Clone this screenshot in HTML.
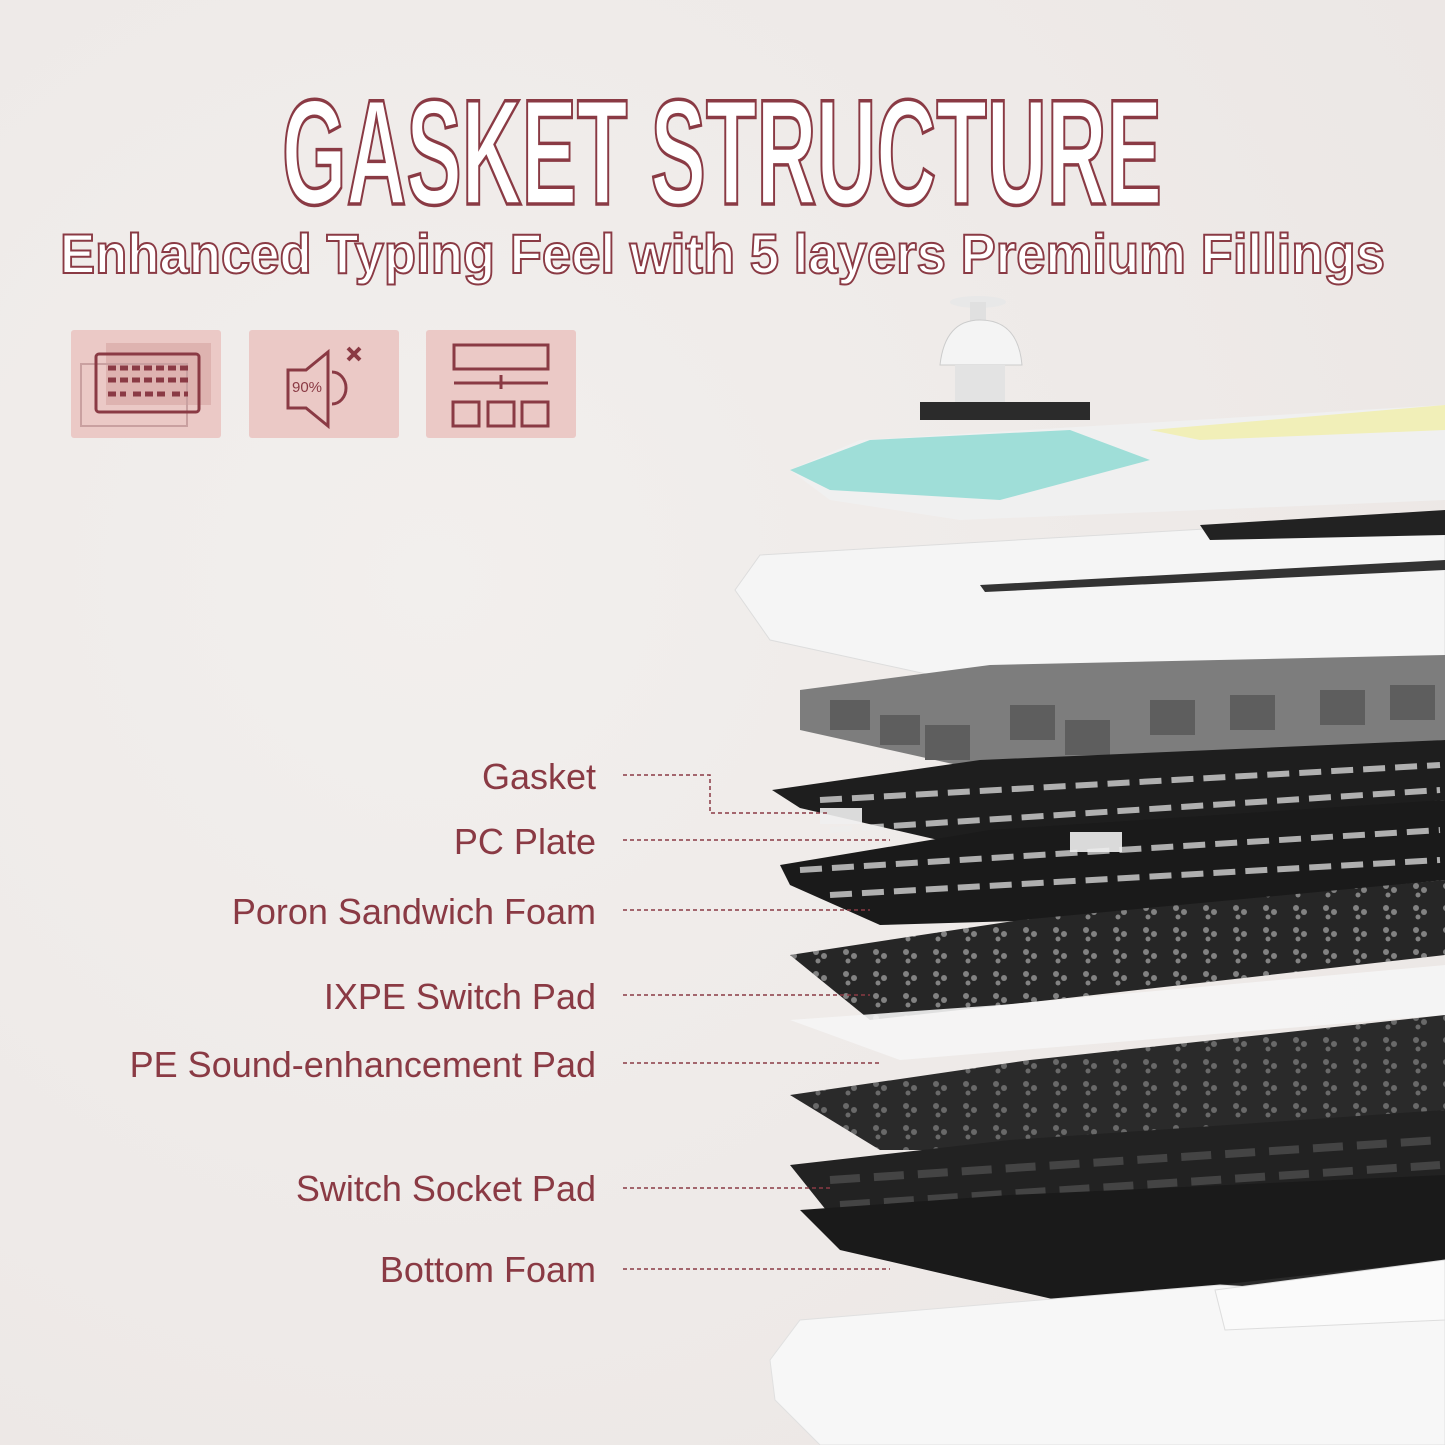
<!DOCTYPE html>
<html><head><meta charset="utf-8"><style>
html,body{margin:0;padding:0;background:#eeeae8;}
svg{display:block}
</style></head><body>
<svg width="1445" height="1445" viewBox="0 0 1445 1445" xmlns="http://www.w3.org/2000/svg">
<defs>
<radialGradient id="bg" cx="0.3" cy="0.4" r="0.9"><stop offset="0" stop-color="#f2efed"/><stop offset="1" stop-color="#ebe6e4"/></radialGradient>
<pattern id="dots" width="30" height="22" patternUnits="userSpaceOnUse"><circle cx="6" cy="6" r="3" fill="#ddd"/><circle cx="14" cy="10" r="3" fill="#ddd"/><circle cx="8" cy="15" r="2.5" fill="#ddd"/></pattern>
</defs>
<rect width="1445" height="1445" fill="url(#bg)"/>

<text x="282" y="204" textLength="880" lengthAdjust="spacingAndGlyphs" font-family="Liberation Sans Narrow, Liberation Sans, sans-serif" font-weight="bold" font-size="150" fill="#fff" stroke="#8a3a44" stroke-width="3.5">GASKET STRUCTURE</text>
<text x="60" y="273" textLength="1325" lengthAdjust="spacingAndGlyphs" font-family="Liberation Sans, sans-serif" font-weight="bold" font-size="56" fill="#fff" stroke="#8a3a44" stroke-width="2">Enhanced Typing Feel with 5 layers Premium Fillings</text>

<g fill="#ebc9c6"><rect x="71" y="330" width="150" height="108" rx="3"/><rect x="249" y="330" width="150" height="108" rx="3"/><rect x="426" y="330" width="150" height="108" rx="3"/></g>
<g stroke="#8a3a44" fill="none" stroke-width="3">
<rect x="106" y="343" width="105" height="62" fill="#deb3b0" stroke="none"/>
<rect x="81" y="364" width="106" height="62" stroke="#c9a0a0" stroke-width="2"/>
<rect x="96" y="354" width="103" height="58" rx="3"/>
<path d="M108 368h82M108 380h80M108 394h18M133 394h32M172 394h16" stroke-width="5" stroke-dasharray="8 4"/>
<path d="M288 370h18l22-18v74l-22-18h-18z"/><path d="M332 372a14 16 0 0 1 0 32"/>
<path d="M348 348l12 12M360 348l-12 12" stroke-width="4"/>
<rect x="454" y="345" width="94" height="24"/><path d="M454 383h94M501 375v14"/>
<rect x="453" y="402" width="26" height="24"/><rect x="488" y="402" width="26" height="24"/><rect x="522" y="402" width="26" height="24"/>
</g>
<text x="292" y="392" font-family="Liberation Sans, sans-serif" font-size="15" fill="#8a3a44">90%</text>

<ellipse cx="978" cy="302" rx="28" ry="6" fill="#e8e8e8"/><rect x="970" y="302" width="16" height="24" fill="#e0e0e0"/>
<path d="M940 365 Q945 320 980 320 Q1018 320 1022 365z" fill="#f4f4f4" stroke="#ccc"/>
<rect x="955" y="365" width="50" height="40" fill="#e3e3e3"/>
<polygon points="920,402 1090,402 1090,420 920,420" fill="#2b2b2b"/>
<polygon points="790,470 860,440 1445,405 1445,500 960,520 830,500" fill="#f0f0f0"/>
<polygon points="790,470 870,440 1070,430 1150,460 1000,500 830,490" fill="#9fded8"/>
<polygon points="1150,430 1445,405 1445,430 1200,440" fill="#f1efb8"/>
<polygon points="735,590 760,555 1445,515 1445,680 1000,690 770,640" fill="#f5f5f5" stroke="#ddd"/>
<polygon points="1200,525 1445,510 1445,535 1210,540" fill="#222"/>
<polygon points="980,585 1445,560 1445,570 985,592" fill="#333"/>
<polygon points="800,690 990,665 1445,655 1445,740 980,770 800,730" fill="#7d7d7d"/>
<g fill="#5e5e5e">
<rect x="830" y="700" width="40" height="30"/><rect x="880" y="715" width="40" height="30"/><rect x="925" y="725" width="45" height="35"/>
<rect x="1010" y="705" width="45" height="35"/><rect x="1065" y="720" width="45" height="35"/><rect x="1150" y="700" width="45" height="35"/><rect x="1230" y="695" width="45" height="35"/><rect x="1320" y="690" width="45" height="35"/><rect x="1390" y="685" width="45" height="35"/>
</g>
<polygon points="772,790 980,760 1445,740 1445,800 960,845 800,808" fill="#1e1e1e"/>
<polygon points="780,865 990,830 1445,800 1445,880 1050,920 880,925 790,885" fill="#1a1a1a"/>
<g fill="#efefef" opacity="0.9">
<rect x="820" y="808" width="42" height="16"/><rect x="1070" y="832" width="52" height="20"/>
</g>
<path d="M820 800 L1440 765 M830 830 L1440 790 M800 870 L1440 830 M830 895 L1440 860" stroke="#eee" stroke-width="6" stroke-dasharray="22 10" opacity="0.7"/>
<polygon points="790,955 1020,920 1445,880 1445,955 1050,1000 870,1020" fill="#262626"/>
<polygon points="790,955 1020,920 1445,880 1445,955 1050,1000 870,1020" fill="url(#dots)" opacity="0.5"/>
<polygon points="790,1020 1000,1005 1445,965 1445,1015 900,1060" fill="#f5f5f5" opacity="0.9"/>
<polygon points="790,1095 1030,1060 1445,1015 1445,1110 1080,1150 880,1150" fill="#2a2a2a"/>
<polygon points="790,1095 1030,1060 1445,1015 1445,1110 1080,1150 880,1150" fill="url(#dots)" opacity="0.35"/>
<polygon points="790,1165 1010,1140 1445,1110 1445,1195 1040,1230 830,1215" fill="#222"/>
<path d="M830 1180 L1440 1140 M840 1205 L1440 1165" stroke="#444" stroke-width="8" stroke-dasharray="30 14"/>
<polygon points="800,1210 1010,1195 1445,1175 1445,1260 1100,1310 840,1250" fill="#1a1a1a"/>
<polygon points="1080,1300 1445,1260 1445,1285 1080,1315" fill="#2a2a2a"/>
<polygon points="770,1360 800,1320 1220,1285 1445,1300 1445,1445 820,1445 775,1400" fill="#f7f7f7" stroke="#e0e0e0"/>
<polygon points="1215,1290 1445,1260 1445,1320 1225,1330" fill="#fafafa" stroke="#ddd"/>

<g font-family="Liberation Sans, sans-serif" font-size="36" fill="#8a3a44" text-anchor="end">
<text x="596" y="789">Gasket</text>
<text x="596" y="854">PC Plate</text>
<text x="596" y="924">Poron Sandwich Foam</text>
<text x="596" y="1009">IXPE Switch Pad</text>
<text x="596" y="1077">PE Sound-enhancement Pad</text>
<text x="596" y="1201">Switch Socket Pad</text>
<text x="596" y="1282">Bottom Foam</text>
</g>
<g stroke="#8a3a44" stroke-width="1.5" stroke-dasharray="4 3" fill="none">
<path d="M623 775H710V813H830"/>
<path d="M623 840H890"/>
<path d="M623 910H870"/>
<path d="M623 995H870"/>
<path d="M623 1063H880"/>
<path d="M623 1188H830"/>
<path d="M623 1269H890"/>
</g>
</svg>
</body></html>
